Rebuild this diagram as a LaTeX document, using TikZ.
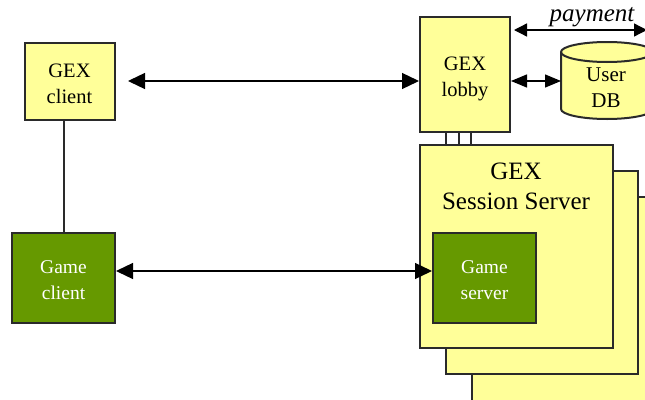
\documentclass[tikz,border=0pt]{standalone}
\usepackage{fontspec}
\setmainfont{Liberation Serif}
\usetikzlibrary{arrows.meta}
\definecolor{boxyellow}{HTML}{FFFF99}
\definecolor{boxgreen}{HTML}{669900}
\definecolor{edgegrey}{HTML}{2A2A2A}
\tikzset{
  x=1pt,y=-1pt,
  outline/.style={draw=edgegrey,line width=2pt},
  ybox/.style={outline,fill=boxyellow,inner sep=0pt,align=center,text=black,font=\fontsize{20.5}{26}\selectfont},
  gbox/.style={outline,fill=boxgreen,inner sep=0pt,align=center,text=white,font=\fontsize{19.5}{26}\selectfont},
  stack/.style={outline,fill=boxyellow,inner sep=0pt},
  link/.style={draw=black,line width=1.3pt},
  both/.style={link,{Triangle[length=17pt,width=16pt]}-{Triangle[length=17pt,width=16pt]}},
  thin both/.style={link,{Triangle[length=13pt,width=13pt]}-{Triangle[length=13pt,width=13pt]}},
}
\begin{document}
\begin{tikzpicture}
\useasboundingbox (0,0) rectangle (645,399);
\clip (0,0) rectangle (645,399);
\fill[white] (0,0) rectangle (645,399);
% stacked servers
\node[stack,minimum width=192pt,minimum height=223pt] (s3) at (568,308.5) {};
\node[stack,minimum width=192pt,minimum height=203pt] (s2) at (542,272.5) {};
\node[outline,fill=boxyellow,inner sep=0pt,minimum width=90pt,minimum height=115pt] (lobby) at (465,74.5) {};
\node[ybox,draw=none,fill=none] (lobbytext) at (465,79) {GEX\\lobby};
\node[stack,minimum width=193pt,minimum height=203pt] (s1) at (516.5,246.5) {};
% lobby to server lines
\draw[outline] (lobby.south) ++(-19,0) coordinate (la) -- (la |- s1.north);
\draw[outline] (lobby.south) ++(-6,0) coordinate (lb) -- (lb |- s1.north);
\draw[outline] (lobby.south) ++(6,0) coordinate (lc) -- (lc |- s1.north);
\node[align=center,font=\fontsize{25}{30}\selectfont] (title) at (516,186) {GEX\\Session Server};
\node[outline,fill=boxgreen,inner sep=0pt,minimum width=103pt,minimum height=90pt] (gserver) at (484.5,278) {};
\node[gbox,draw=none,fill=none] (gservertext) at (484.5,280.5) {Game\\server};
\node[outline,fill=boxyellow,inner sep=0pt,minimum width=90pt,minimum height=77pt] (gclient) at (69.5,81) {};
\node[ybox,draw=none,fill=none] (gclienttext) at (69.5,84) {GEX\\client};
\node[outline,fill=boxgreen,inner sep=0pt,minimum width=103pt,minimum height=90pt] (mclient) at (63.5,278) {};
\node[gbox,draw=none,fill=none] (mclienttext) at (63.5,280.5) {Game\\client};
% user db
\draw[outline,fill=boxyellow] (561,52) -- (561,109) arc[start angle=180,end angle=360,x radius=46pt,y radius=10pt] -- (653,52) arc[start angle=0,end angle=180,x radius=46pt,y radius=10pt] -- cycle;
\draw[outline] (561,52) arc[start angle=180,end angle=360,x radius=46pt,y radius=10pt];
\node[align=center,font=\fontsize{21}{26}\selectfont] (dbtext) at (606,88) {User\\DB};
\coordinate (db) at (561,81);
% connectors
\draw[outline] (mclient.north) -- (mclient.north |- gclient.south);
\coordinate (cleft) at (128,81);
\coordinate (lobbyw) at (lobby.west |- cleft);
\draw[both] (cleft) -- (lobbyw);
\coordinate (gl) at (mclient.east |- 0,271);
\coordinate (gr) at (gserver.west |- 0,271);
\draw[both] (gl) -- (gr);
\coordinate (pl) at (514,30);
\coordinate (pr) at (647,30);
\draw[thin both] (pl) -- (pr);
\coordinate (dl) at (lobby.east |- db);
\draw[both,{Triangle[length=16pt,width=13pt]}-{Triangle[length=16pt,width=13pt]}] (dl) -- (db);
\node[font=\fontsize{25}{26}\itshape] (pay) at (592,17) {payment};
\end{tikzpicture}
\end{document}
